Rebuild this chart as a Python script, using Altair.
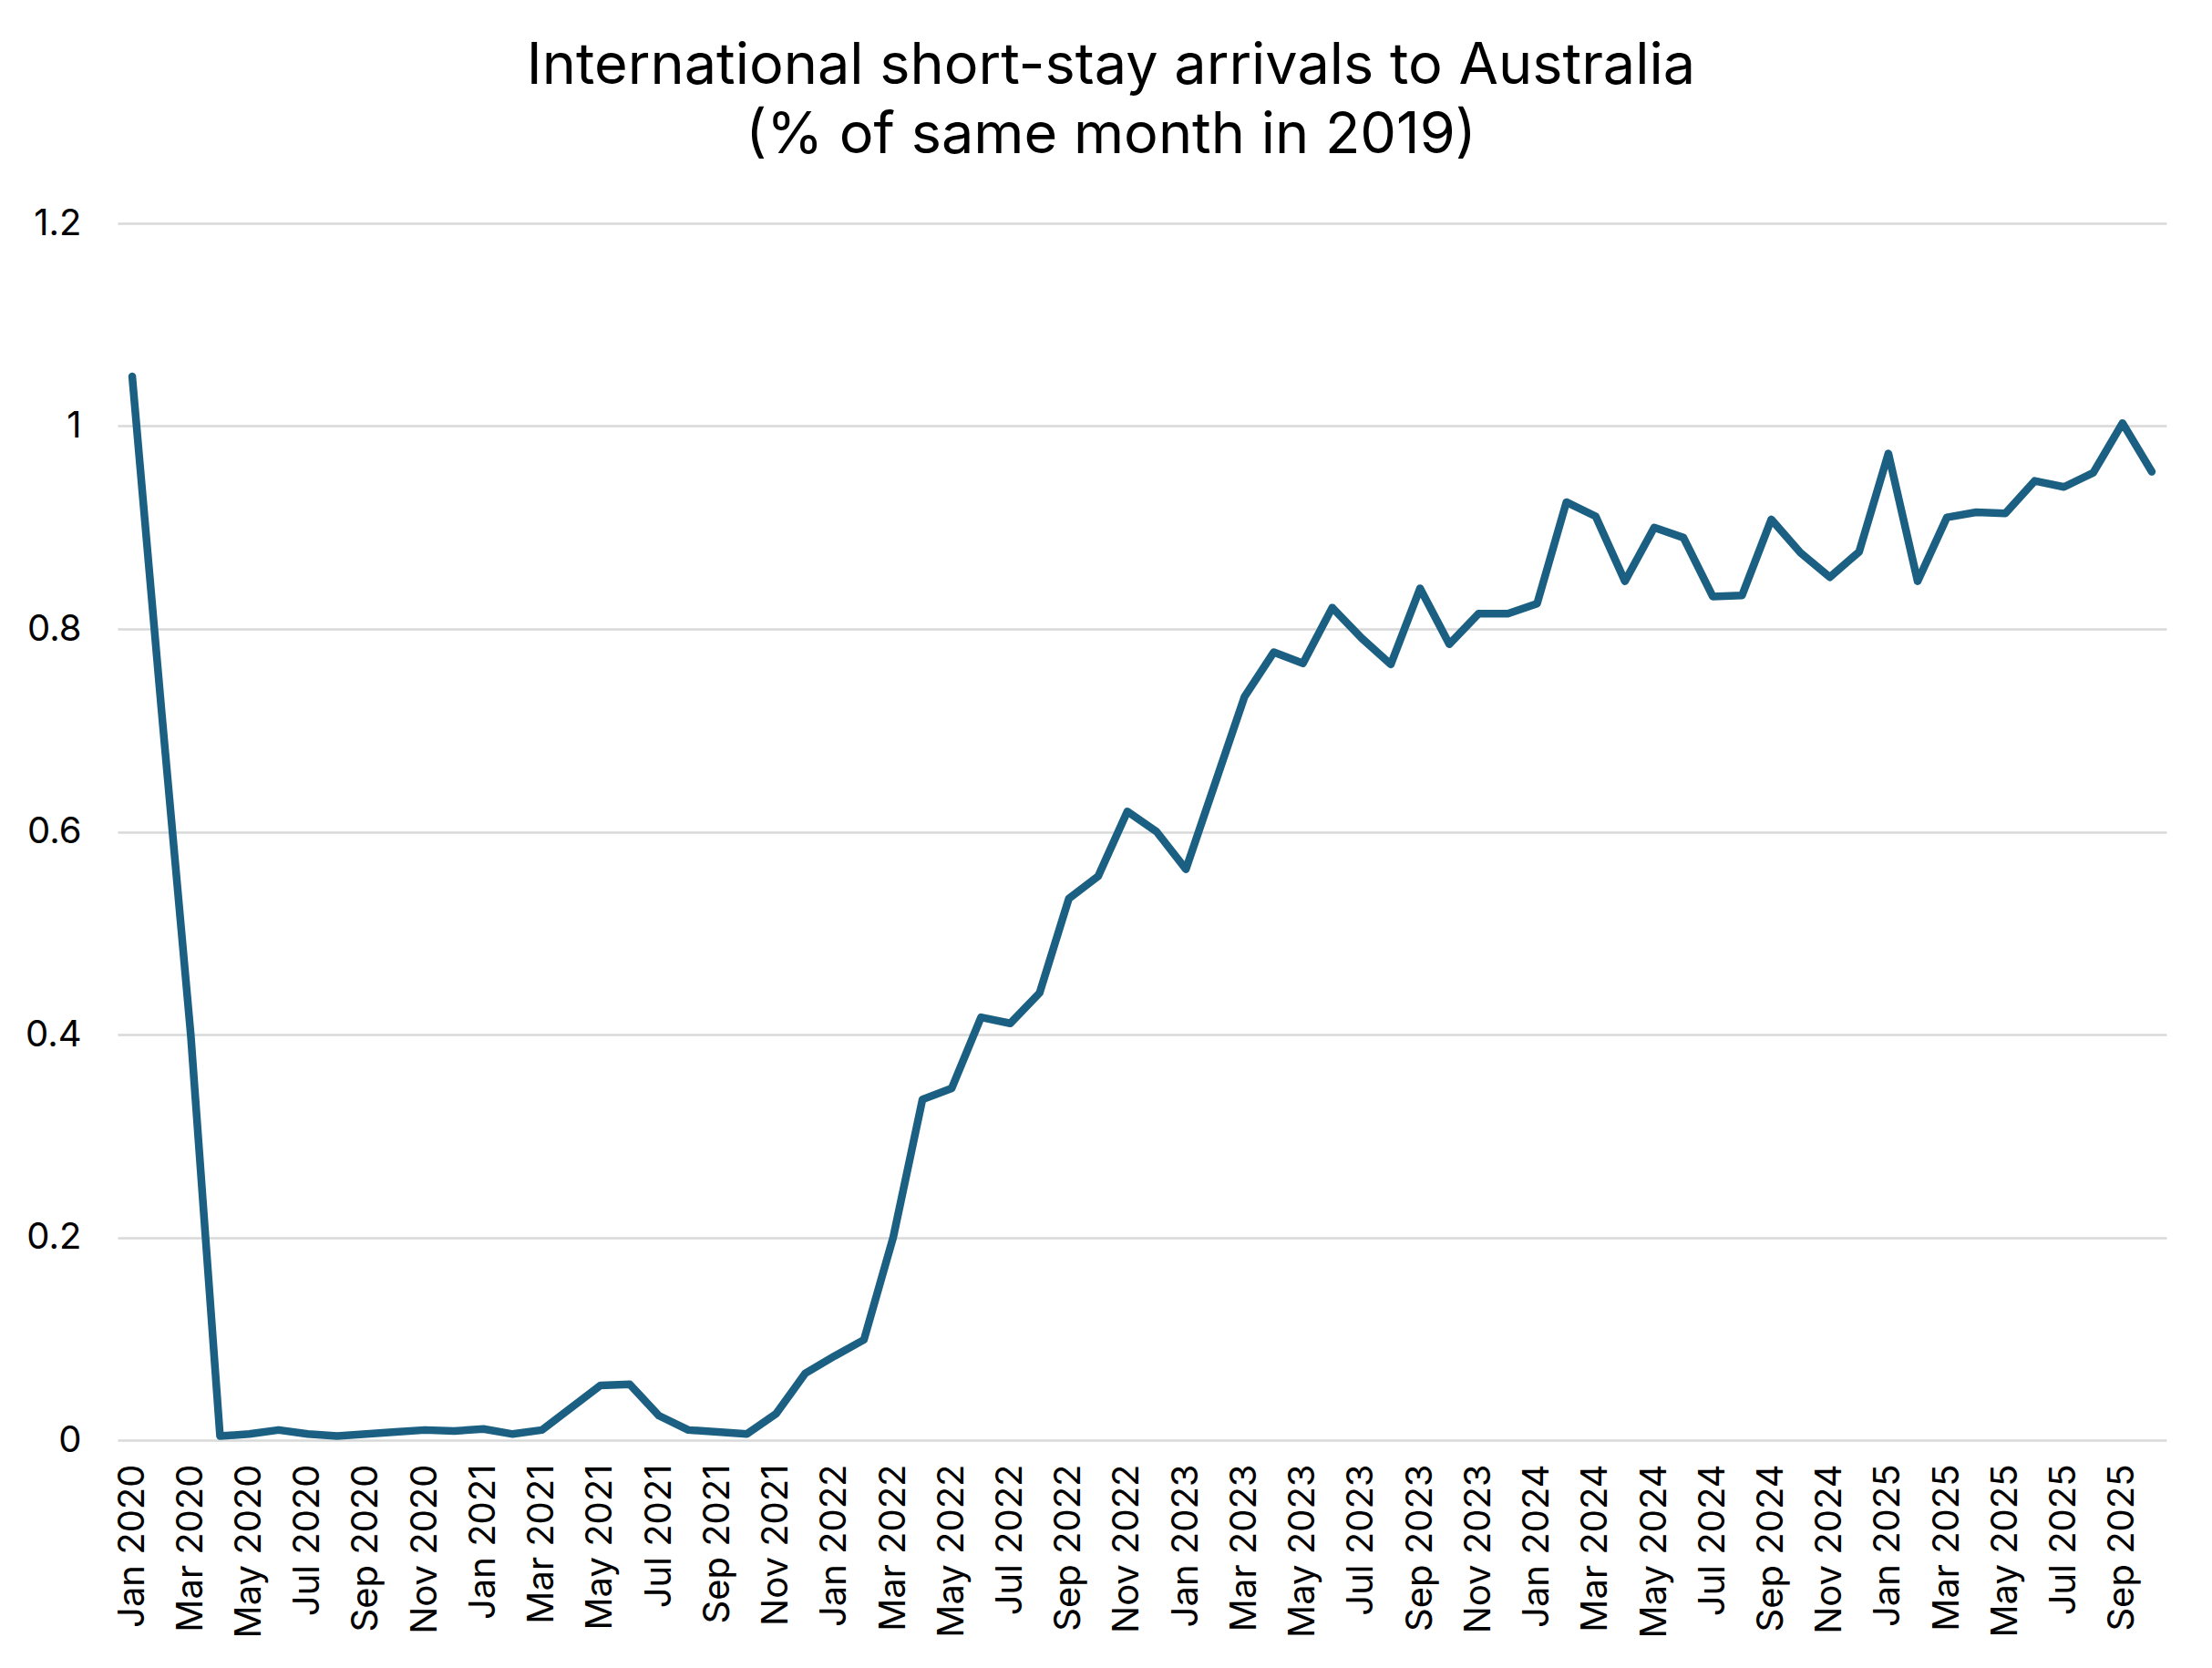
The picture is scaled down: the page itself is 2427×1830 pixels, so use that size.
import altair as alt
import pandas as pd

MONTHS = ["Jan", "Feb", "Mar", "Apr", "May", "Jun",
          "Jul", "Aug", "Sep", "Oct", "Nov", "Dec"]
YEARS = [2020, 2021, 2022, 2023, 2024, 2025]
N_POINTS = 70  # Jan 2020 .. Oct 2025

categories = [f"{m} {y}" for y in YEARS for m in MONTHS][:N_POINTS]

share_of_2019 = [
    1.049, 0.720, 0.400, 0.004, 0.006, 0.010, 0.006, 0.004, 0.006, 0.008, 0.010, 0.009,   # 2020
    0.011, 0.006, 0.010, 0.032, 0.054, 0.055, 0.024, 0.010, 0.008, 0.006, 0.026, 0.066,   # 2021
    0.083, 0.099, 0.200, 0.336, 0.347, 0.417, 0.411, 0.441, 0.534, 0.556, 0.620, 0.600,   # 2022
    0.563, 0.648, 0.733, 0.777, 0.766, 0.821, 0.791, 0.765, 0.840, 0.785, 0.815, 0.815,   # 2023
    0.825, 0.925, 0.911, 0.847, 0.900, 0.890, 0.832, 0.833, 0.908, 0.875, 0.851, 0.876,   # 2024
    0.973, 0.847, 0.910, 0.915, 0.914, 0.946, 0.940, 0.954, 1.003, 0.955,                 # 2025
]

tick_labels = categories[::2]
y_ticks = [0, 0.2, 0.4, 0.6, 0.8, 1.0, 1.2]

df = pd.DataFrame({"month": categories, "value": share_of_2019})

FONT = "Inter"

chart = (
    alt.Chart(df)
    .mark_line(color="#1B6082", strokeWidth=8.5, strokeCap="round", strokeJoin="round")
    .encode(
        x=alt.X(
            "month:O",
            sort=categories,
            title=None,
            axis=alt.Axis(
                values=tick_labels,
                labelAngle=270,
                labelFontSize=40,
                labelFont=FONT,
                labelColor="#000000",
                labelPadding=26,
                labelLimit=0,
                labelOverlap=False,
                ticks=False,
                tickSize=0,
                domain=False,
                grid=False,
            ),
        ),
        y=alt.Y(
            "value:Q",
            title=None,
            scale=alt.Scale(domain=[0, 1.2], nice=False, zero=True),
            axis=alt.Axis(
                values=y_ticks,
                format="~g",
                labelFontSize=40,
                labelFont=FONT,
                labelColor="#000000",
                labelPadding=40,
                ticks=False,
                tickSize=0,
                domain=False,
                grid=True,
                gridColor="#D9D9D9",
                gridWidth=2.5,
            ),
        ),
    )
    .properties(
        width=2248,
        height=1335,
        title=alt.TitleParams(
            text=["International short-stay arrivals to Australia", "(% of same month in 2019)"],
            fontSize=63,
            font=FONT,
            fontWeight="normal",
            color="#000000",
            anchor="middle",
            dx=-34,
            offset=44,
            lineHeight=76,
        ),
        autosize=alt.AutoSizeParams(type="none"),
        padding={"left": 121, "top": 237, "right": 42, "bottom": 242},
    )
    .configure(background="#FFFFFF")
    .configure_view(stroke=None, strokeWidth=0)
)

chart.save("out.html", embed_options={"renderer": "svg", "actions": False})
